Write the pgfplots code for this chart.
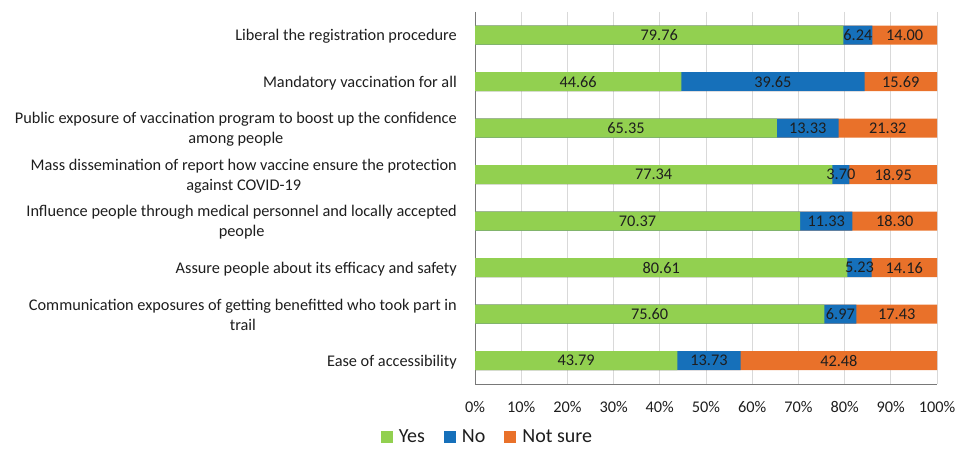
\documentclass[border=0pt]{standalone}
\usepackage{pgfplots}
\usepackage{pgfplotstable}
\pgfplotsset{compat=1.18}
\usepackage{fontspec}
\setmainfont{Carlito}
\definecolor{cgreen}{RGB}{146,208,80}
\definecolor{cblue}{RGB}{22,112,186}
\definecolor{corange}{RGB}{233,113,42}
\definecolor{cgrid}{RGB}{217,217,217}
\definecolor{caxis}{RGB}{120,120,120}
\definecolor{ctext}{RGB}{30,30,30}
\newcommand{\lf}{\fontsize{16.3}{20}\selectfont}

\pgfplotstableread{
y yes no notsure
0 79.76 6.24 14.00
1 44.66 39.65 15.69
2 65.35 13.33 21.32
3 77.34 3.70 18.95
4 70.37 11.33 18.30
5 80.61 5.23 14.16
6 75.60 6.97 17.43
7 43.79 13.73 42.48
}\data

\begin{document}
\begin{tikzpicture}
\path[use as bounding box] (0,0) rectangle (955pt,449pt);
\begin{axis}[
  at={(475pt,437pt)}, anchor=north west,
  scale only axis, width=462pt, height=372pt,
  xmin=0, xmax=100, ymin=-0.5, ymax=7.5, y dir=reverse,
  axis x line*=bottom, axis y line*=left,
  axis line style={-, draw=caxis, line width=0.9pt},
  xmajorgrids, grid style={cgrid, line width=0.8pt},
  major tick length=0pt,
  xtick={0,10,...,100},
  xticklabels={0\%,10\%,20\%,30\%,40\%,50\%,60\%,70\%,80\%,90\%,100\%},
  xticklabel style={font=\lf, inner sep=0pt, anchor=north, yshift=-17pt, text=ctext},
  ytick={0,...,7},
  yticklabels={
    {Liberal the registration procedure},
    {Mandatory vaccination for all},
    {Public exposure of vaccination program to boost up the confidence\\among people},
    {Mass dissemination of report how vaccine ensure the protection\\against COVID-19},
    {Influence people through medical personnel and locally accepted\\people},
    {Assure people about its efficacy and safety},
    {Communication exposures of getting benefitted who took part in\\trail},
    {Ease of accessibility}},
  yticklabel style={font=\lf, align=center, inner sep=0pt, anchor=east, xshift=-18pt, yshift=-1pt, text=ctext},
  legend columns=-1,
  legend style={draw=none, at={(rel axis cs:0.027,-0.1425)}, anchor=center,
    font=\fontsize{20}{24}\selectfont,
    /tikz/every odd column/.append style={column sep=4pt},
    /tikz/every even column/.append style={column sep=17pt},
    text=ctext},
  legend image code/.code={\fill[#1] (0pt,-6pt) rectangle (12pt,6pt);},
  clip=false,
]
\addlegendimage{fill=cgreen, draw=none}
\addlegendentry{Yes}
\addlegendimage{fill=cblue, draw=none}
\addlegendentry{No}
\addlegendimage{fill=corange, draw=none}
\addlegendentry{Not sure}

\addplot[xbar, bar width=19pt, bar shift=0pt, fill=corange, draw=none, forget plot]
  table[x expr=\thisrow{yes}+\thisrow{no}+\thisrow{notsure}, y=y] {\data};
\addplot[xbar, bar width=19pt, bar shift=0pt, fill=cblue, draw=none, forget plot]
  table[x expr=\thisrow{yes}+\thisrow{no}, y=y] {\data};
\addplot[xbar, bar width=19pt, bar shift=0pt, fill=cgreen, draw=none, forget plot]
  table[x=yes, y=y] {\data};

\pgfplotsset{lbl/.style={draw=none, mark=none, forget plot, nodes near coords, point meta=explicit symbolic,
  nodes near coords align=center, every node near coord/.append style={font=\lf, text=ctext, inner sep=0pt}}}
\addplot[lbl] table[x expr=\thisrow{yes}/2, y=y, meta=yes] {\data};
\addplot[lbl] table[x expr=\thisrow{yes}+\thisrow{no}/2, y=y, meta=no] {\data};
\addplot[lbl] table[x expr=\thisrow{yes}+\thisrow{no}+\thisrow{notsure}/2, y=y, meta=notsure] {\data};
\end{axis}
\end{tikzpicture}
\end{document}
